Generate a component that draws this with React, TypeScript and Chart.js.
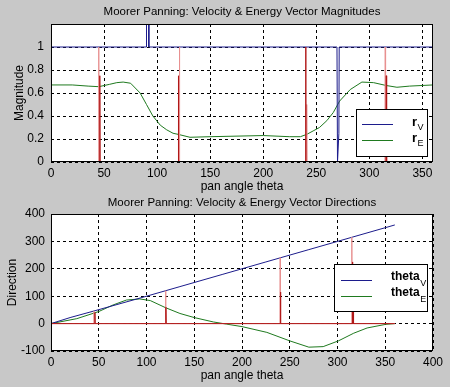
import React, { useEffect, useRef } from 'react';
import { Chart, registerables } from 'chart.js';

Chart.register(...registerables);

const FONT = "'Liberation Sans', Arial, Helvetica, sans-serif";
const BG = '#c8c8c8';

// ---------- shared ----------
const xLabel = 'pan angle theta';

// ---------- top subplot: magnitudes ----------
const magTitle = 'Moorer Panning: Velocity & Energy Vector Magnitudes';
const magYLabel = 'Magnitude';

const rVTheta = [0, 90, 90, 92.2, 92.2, 269.5, 270, 271.3, 271.6, 360];
const rVValues = [1, 1, 1.4, 1.4, 1, 1, 0, 0.25, 1, 1];

const rETheta = [0, 20, 35, 45, 55, 62, 68, 75, 84, 90, 96, 103, 109, 115, 120, 131, 150, 200, 225, 235, 241, 247, 253, 260, 266, 272, 282, 293, 304, 316, 326, 338, 360];
const rEValues = [0.67, 0.67, 0.66, 0.655, 0.675, 0.69, 0.695, 0.685, 0.6, 0.5, 0.4, 0.32, 0.28, 0.25, 0.24, 0.215, 0.22, 0.23, 0.22, 0.22, 0.24, 0.27, 0.3, 0.36, 0.43, 0.53, 0.63, 0.695, 0.69, 0.665, 0.65, 0.66, 0.67];

const magSpikeLightTheta = [0, 0, 45, 45, 45.3, 120.7, 121, 121.3, 240.7, 241, 241.3, 314.7, 315, 315.3, 360];
const magSpikeLightValues = [1, 0, 0, 1, 0, 0, 1, 0, 0, 0.5, 0, 0, 1, 0, 0];

const magSpikeDarkTheta = [0, 0, 46, 46, 46.3, 119.7, 120, 120.3, 239.7, 240, 240.3, 315.7, 316, 316.3, 360];
const magSpikeDarkValues = [0.5, 0, 0, 0.75, 0, 0, 0.75, 0, 0, 1, 0, 0, 0.75, 0, 0];

const magLegendMain = ['r', 'r'];
const magLegendSub = ['V', 'E'];

// ---------- bottom subplot: directions ----------
const dirTitle = 'Moorer Panning: Velocity & Energy Vector Directions';
const dirYLabel = 'Direction';

const thetaVTheta = [0, 20, 45, 90, 135, 180, 225, 270, 315, 360];
const thetaVValues = [0, 22, 46, 90, 135, 180, 225, 270, 315, 360];

const thetaETheta = [0, 27, 50, 65, 79, 93, 104, 120, 135, 150, 170, 184, 200, 226, 250, 270, 285, 301, 317, 331, 350, 360];
const thetaEValues = [0, 18, 44, 68, 86, 90, 84, 58, 37, 22, 6, -2, -11, -32, -63, -86, -84, -63, -35, -16, -3, 0];

const dirSpikeLightTheta = [0, 44.7, 45, 45.3, 119.7, 120, 120.3, 239.7, 240, 240.3, 314.7, 315, 315.3, 360];
const dirSpikeLightValues = [0, 0, 45, 0, 0, 120, 0, 0, 240, 0, 0, 315, 0, 0];

const dirSpikeDarkTheta = [0, 45.7, 46, 46.3, 120, 120.3, 120.6, 240, 240.3, 240.6, 315.4, 315.7, 316, 316.5, 316.8, 360];
const dirSpikeDarkValues = [0, 0, 40, 0, 0, 60, 0, 0, 115, 0, 0, 225, 0, 60, 0, 0];

const dirLegendMain = ['theta', 'theta'];
const dirLegendSub = ['V', 'E'];

// ---------- colors ----------
const BLUE = '#1c1c8c';
const GREEN = '#1f7a1f';
const RED_DARK = '#b01818';
const RED_LIGHT = '#e89090';

const pts = (xs: number[], ys: number[]) => xs.map((x, i) => ({ x, y: ys[i] }));

function ds(xs: number[], ys: number[], color: string) {
  return {
    data: pts(xs, ys),
    borderColor: color,
    backgroundColor: color,
    borderWidth: 1,
    pointRadius: 0,
    showLine: true,
    fill: false,
    tension: 0,
  };
}

type LegendSpec = {
  main: string[];
  sub: string[];
  colors: string[];
  place: (ca: any) => { x: number; y: number; w: number; h: number };
  lineX0: number;
  lineX1: number;
  rowY: number[];
  textX: number;
  textDy: number;
  subDy: number;
  mainFont: string;
  subFont: string;
};

function framePlugin(legend: LegendSpec) {
  return {
    id: 'frame',
    beforeDraw(chart: any) {
      const { ctx, chartArea: ca } = chart;
      ctx.save();
      ctx.fillStyle = '#ffffff';
      ctx.fillRect(ca.left, ca.top, ca.right - ca.left, ca.bottom - ca.top);
      ctx.restore();
    },
    afterDraw(chart: any) {
      const { ctx, chartArea: ca } = chart;
      ctx.save();
      ctx.strokeStyle = '#000';
      ctx.lineWidth = 1;
      const l = Math.round(ca.left) + 0.5;
      const t = Math.round(ca.top) + 0.5;
      const r = Math.round(ca.right) - 0.5;
      const b = Math.round(ca.bottom) - 0.5;
      ctx.strokeRect(l, t, r - l, b - t);

      const g = legend.place(ca);
      ctx.fillStyle = '#fff';
      ctx.fillRect(g.x, g.y, g.w, g.h);
      ctx.strokeRect(g.x + 0.5, g.y + 0.5, g.w - 1, g.h - 1);
      legend.main.forEach((m, i) => {
        const yy = g.y + legend.rowY[i];
        ctx.strokeStyle = legend.colors[i];
        ctx.beginPath();
        ctx.moveTo(g.x + legend.lineX0, yy + 0.5);
        ctx.lineTo(g.x + legend.lineX1, yy + 0.5);
        ctx.stroke();
        ctx.fillStyle = '#000';
        ctx.textAlign = 'left';
        ctx.textBaseline = 'middle';
        ctx.font = legend.mainFont;
        ctx.fillText(m, g.x + legend.textX, yy + legend.textDy);
        const mw = ctx.measureText(m).width;
        ctx.font = legend.subFont;
        ctx.fillText(legend.sub[i], g.x + legend.textX + mw + 0.5, yy + legend.subDy);
      });
      ctx.restore();
    },
  };
}

type PanelProps = {
  height: number;
  datasets: any[];
  title: string;
  titlePad: { top: number; bottom: number };
  yLabel: string;
  yLabelPad: number;
  xMin: number; xMax: number; xStep: number;
  yMin: number; yMax: number; yStep: number;
  yHideAbove: number;
  padRight: number;
  xAxisHeight: number;
  xTitlePadBottom: number;
  yTickPad: number;
  legend: LegendSpec;
};

function Panel(p: PanelProps) {
  const ref = useRef<HTMLCanvasElement | null>(null);
  useEffect(() => {
    if (!ref.current) return;
    const grid = { color: '#000', lineWidth: 1, drawTicks: false };
    const border = { display: false, dash: [3, 3] };
    const chart = new Chart(ref.current, {
      type: 'scatter',
      data: { datasets: p.datasets },
      options: {
        animation: false,
        responsive: false,
        devicePixelRatio: 1,
        layout: { padding: { left: 0, right: p.padRight, top: 0, bottom: 0 } },
        plugins: {
          legend: { display: false },
          tooltip: { enabled: false },
          title: {
            display: true,
            fullSize: false,
            text: p.title,
            color: '#000',
            font: { family: FONT, size: 11.5, weight: 'normal', lineHeight: '14px' },
            padding: p.titlePad,
          },
        },
        scales: {
          x: {
            type: 'linear',
            min: p.xMin,
            max: p.xMax,
            grid,
            border,
            ticks: {
              stepSize: p.xStep,
              includeBounds: false,
              color: '#000',
              padding: 4,
              maxRotation: 0,
              font: { family: FONT, size: 12 },
            },
            title: {
              display: true,
              text: xLabel,
              color: '#000',
              font: { family: FONT, size: 12, lineHeight: '14px' },
              padding: { top: 0, bottom: p.xTitlePadBottom },
            },
            afterFit: (s: any) => { s.height = p.xAxisHeight; },
          },
          y: {
            type: 'linear',
            min: p.yMin,
            max: p.yMax,
            grid,
            border,
            ticks: {
              stepSize: p.yStep,
              includeBounds: false,
              color: '#000',
              padding: p.yTickPad,
              font: { family: FONT, size: 12 },
              callback: (v: any) => (Number(v) > p.yHideAbove ? '' : String(Math.round(Number(v) * 100) / 100)),
            },
            title: {
              display: true,
              text: p.yLabel,
              color: '#000',
              font: { family: FONT, size: 12, lineHeight: '14px' },
              padding: { top: p.yLabelPad, bottom: 0 },
            },
            afterFit: (s: any) => { s.width = 51; },
          },
        },
      } as any,
      plugins: [framePlugin(p.legend)],
    });
    return () => chart.destroy();
  }, []);
  return <canvas ref={ref} width={450} height={p.height} style={{ display: 'block', width: 450, height: p.height }} />;
}

export default function App() {
  useEffect(() => {
    document.body.style.margin = '0';
    document.body.style.background = BG;
  }, []);

  const topSets = [
    ds(magSpikeDarkTheta, magSpikeDarkValues, RED_DARK),
    ds(magSpikeLightTheta, magSpikeLightValues, RED_LIGHT),
    ds(rVTheta, rVValues, BLUE),
    ds(rETheta, rEValues, GREEN),
  ];
  const bottomSets = [
    ds(dirSpikeDarkTheta, dirSpikeDarkValues, RED_DARK),
    ds(dirSpikeLightTheta, dirSpikeLightValues, RED_LIGHT),
    ds(thetaVTheta, thetaVValues, BLUE),
    ds(thetaETheta, thetaEValues, GREEN),
  ];

  const topLegend: LegendSpec = {
    main: magLegendMain,
    sub: magLegendSub,
    colors: [BLUE, GREEN],
    place: (ca) => ({ x: Math.round(ca.right) - 77, y: Math.round(ca.bottom) - 53, w: 72, h: 48 }),
    lineX0: 6, lineX1: 37, rowY: [15, 31], textX: 56, textDy: -2, subDy: 4,
    mainFont: `bold 13px ${FONT}`, subFont: `9px ${FONT}`,
  };
  const bottomLegend: LegendSpec = {
    main: dirLegendMain,
    sub: dirLegendSub,
    colors: [BLUE, GREEN],
    place: (ca) => ({ x: Math.round(ca.right) - 99, y: Math.round(ca.top) + 50, w: 94, h: 48 }),
    lineX0: 7, lineX1: 38, rowY: [16, 32], textX: 57, textDy: -3, subDy: 4,
    mainFont: `bold 12px ${FONT}`, subFont: `9px ${FONT}`,
  };

  return (
    <div style={{ width: 450, height: 387, background: BG, position: 'relative', overflow: 'hidden' }}>
      <Panel
        height={194}
        datasets={topSets}
        title={magTitle}
        titlePad={{ top: 5, bottom: 5 }}
        yLabel={magYLabel}
        yLabelPad={13}
        xMin={0} xMax={360} xStep={50}
        yMin={0} yMax={1.2} yStep={0.2}
        yHideAbove={1.05}
        padRight={17}
        xAxisHeight={32}
        xTitlePadBottom={0}
        yTickPad={7}
        legend={topLegend}
      />
      <Panel
        height={193}
        datasets={bottomSets}
        title={dirTitle}
        titlePad={{ top: 2, bottom: 4 }}
        yLabel={dirYLabel}
        yLabelPad={6}
        xMin={0} xMax={400} xStep={50}
        yMin={-100} yMax={400} yStep={100}
        yHideAbove={1000}
        padRight={17}
        xAxisHeight={36}
        xTitlePadBottom={4}
        yTickPad={6}
        legend={bottomLegend}
      />
    </div>
  );
}
